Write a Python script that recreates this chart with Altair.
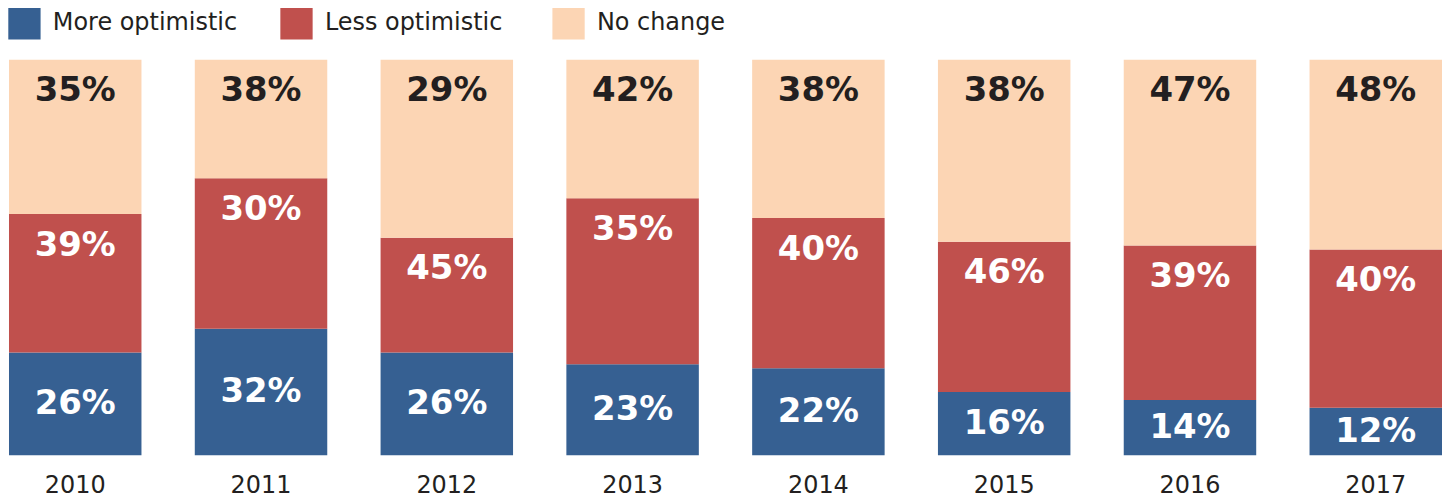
import altair as alt
import pandas as pd

years = ["2010", "2011", "2012", "2013", "2014", "2015", "2016", "2017"]
categories = ["More optimistic", "Less optimistic", "No change"]
colors = ["#366092", "#C0504D", "#FCD5B4"]

# Printed percentages (labels) as shown in the reference
more_optimistic = [26, 32, 26, 23, 22, 16, 14, 12]
less_optimistic = [39, 30, 45, 35, 40, 46, 39, 40]
no_change = [35, 38, 29, 42, 38, 38, 47, 48]

# Segment heights as drawn in the reference (the red/peach heights are
# swapped relative to their printed labels for 2010-2015)
less_height = [35, 38, 29, 42, 38, 38, 39, 40]
no_change_height = [39, 30, 45, 35, 40, 46, 47, 48]

rows = []
for i, yr in enumerate(years):
    heights = [more_optimistic[i], less_height[i], no_change_height[i]]
    texts = [more_optimistic[i], less_optimistic[i], no_change[i]]
    for k in range(3):
        rows.append({"year": yr, "category": categories[k], "value": heights[k],
                     "shown": texts[k], "order": k})
df = pd.DataFrame(rows)

base = alt.Chart(df)

x_enc = alt.X(
    "year:N",
    sort=years,
    scale=alt.Scale(paddingInner=0.287, paddingOuter=0),
    axis=alt.Axis(
        title=None, labelAngle=0, domain=False, ticks=False,
        labelFont="DejaVu Sans", labelFontSize=24, labelColor="#231F20",
        labelPadding=18,
    ),
)

bars = base.mark_bar().encode(
    x=x_enc,
    y=alt.Y("value:Q", stack="zero", scale=alt.Scale(domain=[0, 100], nice=False), axis=None),
    color=alt.Color(
        "category:N",
        scale=alt.Scale(domain=categories, range=colors),
        legend=alt.Legend(
            title=None, orient="none", direction="horizontal",
            legendX=-1, legendY=-53,
            symbolType="square", symbolSize=1050, symbolStrokeWidth=0,
            symbolOpacity=1,
            labelFont="DejaVu Sans", labelFontSize=24, labelColor="#231F20",
            labelOffset=12, labelLimit=400, columnPadding=43, gridAlign="all",
        ),
    ),
    order=alt.Order("order:Q", sort="ascending"),
)

labels = base.transform_stack(
    stack="value", groupby=["year"], as_=["v0", "v1"],
    sort=[alt.SortField("order", order="ascending")],
).transform_calculate(
    ly="datum.order == 0 ? (datum.v0 + datum.v1) / 2 : datum.v1 - 8",
    label="datum.shown + '%'",
).mark_text(
    font="DejaVu Sans", fontWeight="bold", fontSize=34, baseline="middle", align="center"
).encode(
    x=alt.X("year:N", sort=years),
    y=alt.Y("ly:Q"),
    text="label:N",
    color=alt.condition("datum.order == 2", alt.value("#231F20"), alt.value("#FFFFFF")),
)

chart = alt.layer(bars, labels).properties(
    width=1438, height=397,
    autosize=alt.AutoSizeParams(type="none"),
    padding={"left": 1, "top": 51, "right": 0, "bottom": 43},
).configure_view(stroke=None)

chart.save("out.html", embed_options={"renderer": "svg", "actions": False})
